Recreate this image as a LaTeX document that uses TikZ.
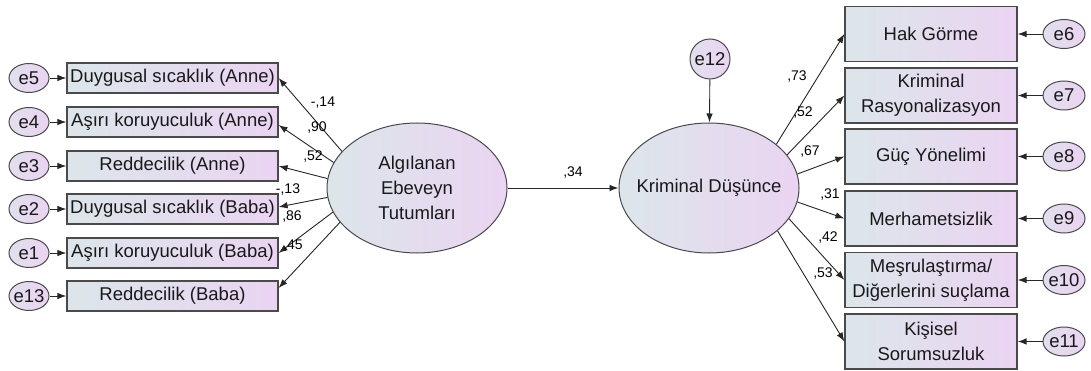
\documentclass[tikz,border=0pt]{standalone}
\usepackage{fontspec}
\setmainfont{Liberation Sans}
\usetikzlibrary{arrows.meta,shapes.geometric}
\definecolor{cL}{HTML}{DCE6EA}
\definecolor{cR}{HTML}{EAD4F2}
\definecolor{bd}{HTML}{4A4A4A}
\begin{document}
\begin{tikzpicture}[x=1pt,y=-1pt,
  txt/.style={font=\fontsize{18.5}{25}\selectfont,text=black!90},
  obs/.style={rectangle,draw=bd,line width=1.2pt,left color=cL,right color=cR,
    minimum height=30pt,minimum width=211pt,inner sep=0pt,txt,align=center},
  obsR/.style={obs,minimum width=172pt,minimum height=55pt},
  lat/.style={ellipse,draw=bd,line width=1pt,left color=cL,right color=cR,
    minimum width=180pt,minimum height=130pt,inner ysep=0pt,inner xsep=-30pt,txt,align=center},
  err/.style={ellipse,draw=bd,line width=1pt,left color=cL!60!cR,right color=cR,
    minimum width=40pt,minimum height=29pt,inner ysep=0pt,inner xsep=-6pt,txt},
  arr/.style={-{Latex[length=9pt,width=6.5pt]},line width=0.9pt,black!85},
  lbl/.style={font=\fontsize{14}{15}\selectfont,inner sep=0pt}
]
\useasboundingbox (0,0) rectangle (1091,371);

% left observed
\node[obs] (b1) at (172.5,78) {Duygusal sıcaklık (Anne)};
\node[obs] (b2) at (172.5,122) {Aşırı koruyuculuk (Anne)};
\node[obs] (b3) at (172.5,166) {Reddecilik (Anne)};
\node[obs] (b4) at (172.5,209) {Duygusal sıcaklık (Baba)};
\node[obs] (b5) at (172.5,253) {Aşırı koruyuculuk (Baba)};
\node[obs] (b6) at (172.5,296) {Reddecilik (Baba)};

\node[err] (e5) at (29,78) {e5};
\node[err] (e4) at (29,122) {e4};
\node[err] (e3) at (29,166) {e3};
\node[err] (e2) at (29,209) {e2};
\node[err] (e1) at (29,253) {e1};
\node[err] (e13) at (29,296) {e13};

% latents
\node[lat] (L) at (417,188) {Algılanan\\Ebeveyn\\Tutumları};
\node[lat] (K) at (709,188) {Kriminal Düşünce};
\node[err,minimum width=40pt,minimum height=40pt] (e12) at (710,59) {e12};

% right observed
\node[obsR] (r1) at (931,34) {Hak Görme};
\node[obsR] (r2) at (931,95.5) {Kriminal\\Rasyonalizasyon};
\node[obsR] (r3) at (931,156.5) {Güç Yönelimi};
\node[obsR] (r4) at (931,218.5) {Merhametsizlik};
\node[obsR] (r5) at (931,280) {Meşrulaştırma/\\Diğerlerini suçlama};
\node[obsR] (r6) at (931,341.5) {Kişisel\\Sorumsuzluk};

\node[err,minimum width=42pt] (e6) at (1064,34) {e6};
\node[err,minimum width=42pt] (e7) at (1064,95.5) {e7};
\node[err,minimum width=42pt] (e8) at (1064,156.5) {e8};
\node[err,minimum width=42pt] (e9) at (1064,218.5) {e9};
\node[err,minimum width=42pt] (e10) at (1064,280) {e10};
\node[err,minimum width=42pt] (e11) at (1064,341.5) {e11};

% error arrows
\foreach \e/\b in {e5/b1,e4/b2,e3/b3,e2/b4,e1/b5,e13/b6,e6/r1,e7/r2,e8/r3,e9/r4,e10/r5,e11/r6,e12/K}
  \draw[arr] (\e) -- (\b);

% loadings left
\draw[arr] (L.154) -- (b1.east);
\draw[arr] (L.163) -- ([yshift=-3pt]b2.east);
\draw[arr] (L.174) -- (b3.east);
\draw[arr] (L.186) -- ([yshift=2pt]b4.east);
\draw[arr] (L.196) -- (b5.east);
\draw[arr] (L.204) -- ([yshift=8pt]b6.east);

% structural
\draw[arr] (L) -- (K);

% loadings right
\draw[arr] (K.33) -- (r1.west);
\draw[arr] (K.23) -- (r2.west);
\draw[arr] (K.9.5) -- (r3.west);
\draw[arr] (K.-9) -- (r4.west);
\draw[arr] (K.-21.5) -- (r5.west);
\draw[arr] (K.-32) -- (r6.west);

% labels
\node[lbl] (l1) at (323,103) {-,14};
\node[lbl] (l2) at (317,128) {,90};
\node[lbl] (l3) at (313,157) {,52};
\node[lbl] (l4) at (288,190) {-,13};
\node[lbl] (l5) at (292,217) {,86};
\node[lbl] (l6) at (293,246) {,45};
\node[lbl] (l7) at (573,173) {,34};
\node[lbl] (l8) at (797,77) {,73};
\node[lbl] (l9) at (803,113) {,52};
\node[lbl] (l10) at (810,152) {,67};
\node[lbl] (l11) at (830,195) {,31};
\node[lbl] (l12) at (828,238) {,42};
\node[lbl] (l13) at (823,274) {,53};
\end{tikzpicture}
\end{document}
